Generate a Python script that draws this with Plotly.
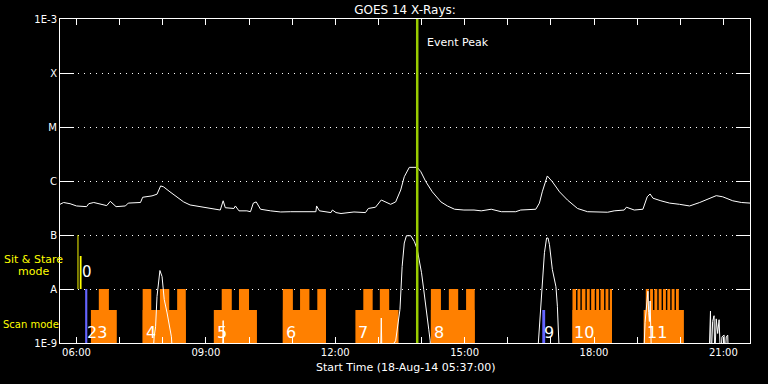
import plotly.graph_objects as go

DAY = "2014-08-18 "

# ---- GOES long channel (1-8 A) ----
long_time = ["05:37","05:42","05:51","06:00","06:14","06:17","06:24","06:33","06:42","06:47","06:55","07:08","07:12","07:29","07:32","07:45","07:52","07:57","08:01","08:10","08:20","08:29","08:38","08:52","09:06","09:20","09:24","09:27","09:39","09:41","09:46","09:57","10:02","10:06","10:10","10:16","10:30","10:44","10:58","11:17","11:33","11:34","11:38","11:54","11:56","12:01","12:08","12:26","12:42","12:46","12:56","13:04","13:10","13:17","13:24","13:31","13:36","13:43","13:54","13:59","14:06","14:15","14:27","14:36","14:46","14:59","15:13","15:23","15:37","15:51","16:11","16:18","16:39","16:44","16:48","16:55","17:02","17:12","17:23","17:37","17:51","18:05","18:19","18:28","18:42","18:45","18:56","19:08","19:14","19:18","19:22","19:33","19:45","19:59","20:13","20:27","20:41","20:50","20:59","21:13","21:25","21:37"]
long_flux = [3.7e-7,4.0e-7,3.8e-7,3.45e-7,3.35e-7,3.8e-7,4.0e-7,3.7e-7,3.5e-7,4.2e-7,3.35e-7,3.45e-7,3.9e-7,4.0e-7,5.0e-7,5.3e-7,5.7e-7,8.1e-7,7.8e-7,6.3e-7,5.1e-7,4.1e-7,3.6e-7,3.35e-7,3.2e-7,2.9e-7,4.3e-7,3.2e-7,3.1e-7,3.45e-7,2.8e-7,2.8e-7,2.7e-7,3.9e-7,4.1e-7,3.0e-7,2.8e-7,2.67e-7,2.7e-7,2.67e-7,2.7e-7,3.45e-7,2.8e-7,2.6e-7,2.9e-7,2.6e-7,2.5e-7,2.67e-7,2.6e-7,3.1e-7,3.27e-7,4.45e-7,4.1e-7,3.7e-7,4.1e-7,6.8e-7,1.2e-6,1.79e-6,1.79e-6,1.49e-6,9.7e-7,6.3e-7,4.1e-7,3.45e-7,3.0e-7,2.9e-7,2.9e-7,2.8e-7,3.0e-7,2.7e-7,2.7e-7,2.9e-7,3.0e-7,3.9e-7,6.3e-7,1.24e-6,9.7e-7,6.3e-7,4.45e-7,3.1e-7,2.7e-7,2.7e-7,2.64e-7,2.8e-7,2.9e-7,3.27e-7,2.9e-7,3.0e-7,5.1e-7,5.75e-7,4.8e-7,4.3e-7,3.9e-7,3.7e-7,3.45e-7,4.0e-7,4.8e-7,5.35e-7,5.1e-7,4.3e-7,4.0e-7,3.9e-7]

# ---- GOES short channel (0.5-4 A) ----
short_time = ["05:37","07:46","07:48","07:50","07:52","07:55","07:56","07:59","08:02","08:06","08:10","08:12","08:14","09:23","09:24","09:25","13:03","13:04","13:05","13:24","13:30","13:33","13:36","13:39","13:45","13:50","13:54","13:58","14:00","14:03","14:07","14:10","14:12","14:13","16:41","16:43","16:46","16:48","16:51","16:54","16:56","16:58","17:00","17:02","17:07","17:09","17:12","19:09","19:11","19:13","19:15","19:16","19:17","19:18","19:19","19:20","20:40","20:42","20:43","20:45","20:47","20:48","20:50","20:52","20:54","20:56","20:58","21:01","21:02","21:04","21:06","21:07","21:37"]
short_flux = [5e-10,5e-10,1.3e-9,2.0e-9,7.3e-9,2.0e-8,2.2e-8,1.7e-8,6.4e-9,3.6e-9,2.0e-9,1.3e-9,5e-10,5e-10,2.6e-9,5e-10,5e-10,2.9e-9,5e-10,1.1e-9,4.2e-9,2.6e-8,7.1e-8,9.7e-8,9.7e-8,7.6e-8,5.4e-8,3.0e-8,2.0e-8,9.8e-9,4.2e-9,1.8e-9,1.1e-9,5e-10,5e-10,1.3e-9,4.2e-9,1.5e-8,4.7e-8,8.8e-8,8.8e-8,6.6e-8,4.0e-8,2.3e-8,1.1e-8,4.8e-9,5e-10,5e-10,2.4e-9,4.8e-9,9.1e-9,3.7e-9,2.5e-9,6e-9,1.5e-9,5e-10,5e-10,3.9e-9,5e-10,2.5e-9,3.2e-9,5e-10,2.8e-9,1.5e-9,2.7e-9,5e-10,1.3e-9,1.4e-9,5e-10,1.3e-9,1.4e-9,5e-10,5e-10]

# ---- Scan mode blocks ----
scan_start = ["06:20","07:32","09:11","10:47","12:28","14:13","17:30","19:09"]
scan_end   = ["06:56","08:32","10:11","11:47","13:28","15:14","18:25","20:05"]
scan_low = 4.1e-9
tower_start = ["06:31","07:32","07:56","08:20","09:22","09:46","10:47","11:11","11:35","12:39","13:02","14:13","14:38","15:02",
               "17:30","17:37","17:43","17:50","17:56","18:03","18:09","18:16","18:22",
               "19:12","19:18","19:24","19:30","19:36","19:42","19:48","19:54"]
tower_end   = ["06:45","07:44","08:09","08:32","09:36","10:00","11:01","11:24","11:47","12:52","13:15","14:27","14:51","15:14",
               "17:35","17:41","17:48","17:54","18:01","18:07","18:14","18:20","18:25",
               "19:16","19:22","19:28","19:34","19:40","19:46","19:52","19:58"]
tower_high = 1e-8

# ---- other mode markers ----
blue_start = ["06:12","16:48"]
blue_end   = ["06:15","16:52"]
blue_top   = [1e-8, 4.1e-9]
yellow_start = ["06:01:20","06:04:30"]
yellow_end   = ["06:02:40","06:07:00"]
yellow_top   = [1e-7, 4.1e-8]

scan_labels = ["23","4","5","6","7","8","9","10","11"]
label_time  = ["06:12","07:34","09:13","10:49","12:29","14:14","16:47","17:30","19:11"]
stare_labels = ["0"]
stare_label_time = ["06:05"]

event_peak = "13:54"

y_ticks = [1e-9,1e-8,1e-7,1e-6,1e-5,1e-4,1e-3]
y_text  = ["1E-9","A","B","C","M","X","1E-3"]


def t(s):
    return DAY + s


def rects(starts, ends, tops, base):
    xs, ys = [], []
    for s, e, top in zip(starts, ends, tops):
        xs += [t(s), t(s), t(e), t(e), t(s), None]
        ys += [base, top, top, base, base, None]
    return xs, ys


fig = go.Figure()

def add_rects(starts, ends, tops, base, color):
    xs, ys = rects(starts, ends, tops, base)
    fig.add_trace(go.Scatter(x=xs, y=ys, mode="lines", fill="toself",
                             fillcolor=color, line=dict(width=0, color=color),
                             hoverinfo="skip", showlegend=False))

add_rects(scan_start, scan_end, [scan_low]*len(scan_start), 1e-9, "#FF8000")
add_rects(tower_start, tower_end, [tower_high]*len(tower_start), 1e-9, "#FF8000")
add_rects(blue_start, blue_end, blue_top, 1e-9, "#6464FF")
add_rects(yellow_start, yellow_end, yellow_top, 1e-8, "#FFFF00")

fig.add_trace(go.Scatter(x=[t(s) for s in long_time], y=long_flux, mode="lines",
                         line=dict(color="white", width=1), showlegend=False))
fig.add_trace(go.Scatter(x=[t(s) for s in short_time], y=short_flux, mode="lines",
                         line=dict(color="white", width=1), showlegend=False))
fig.add_trace(go.Scatter(x=[t(event_peak), t(event_peak)], y=[1e-9, 1e-3], mode="lines",
                         line=dict(color="#99CC00", width=2.5), showlegend=False))

ann = []
for lab, tm in zip(scan_labels, label_time):
    ann.append(dict(x=t(tm), y=-8.81, xref="x", yref="y", text=lab, showarrow=False,
                    xanchor="left", yanchor="middle",
                    font=dict(family="DejaVu Sans", size=16, color="white")))
for lab, tm in zip(stare_labels, stare_label_time):
    ann.append(dict(x=t(tm), y=-7.69, xref="x", yref="y", text=lab, showarrow=False,
                    xanchor="left", yanchor="middle",
                    font=dict(family="DejaVu Sans", size=15, color="white")))

ann.append(dict(x=t(event_peak), y=0.926, xref="x", yref="paper", text="Event Peak",
                showarrow=False, xanchor="left", yanchor="middle", xshift=8,
                font=dict(family="DejaVu Sans", size=11, color="white")))
ann.append(dict(x=-0.0377, y=0.259, xref="paper", yref="paper", text="Sit & Stare",
                showarrow=False, xanchor="center", yanchor="middle",
                font=dict(family="DejaVu Sans", size=11, color="#FFFF00")))
ann.append(dict(x=-0.0377, y=0.222, xref="paper", yref="paper", text="mode",
                showarrow=False, xanchor="center", yanchor="middle",
                font=dict(family="DejaVu Sans", size=11, color="#FFFF00")))
ann.append(dict(x=-0.0845, y=0.0586, xref="paper", yref="paper", text="Scan mode",
                showarrow=False, xanchor="left", yanchor="middle", borderpad=0,
                font=dict(family="DejaVu Sans", size=10, color="#FFFF00")))
ann.append(dict(x=0.5, y=-0.077, xref="paper", yref="paper",
                text="Start Time (18-Aug-14 05:37:00)",
                showarrow=False, xanchor="center", yanchor="middle",
                font=dict(family="DejaVu Sans", size=11, color="white")))

fig.update_layout(
    width=768, height=384,
    margin=dict(l=60, r=18, t=19, b=41),
    paper_bgcolor="black", plot_bgcolor="black",
    showlegend=False,
    title=dict(text="GOES 14 X-Rays:", x=0.5, xref="paper", xanchor="center",
               y=1 - 9.7 / 384, yref="container", yanchor="middle",
               font=dict(family="DejaVu Sans", size=12, color="white")),
    annotations=ann,
    font=dict(family="DejaVu Sans", size=10, color="white"),
)

fig.update_xaxes(
    type="date", range=[t("05:37"), t("21:37")],
    tick0=t("06:00"), dtick=3 * 3600 * 1000, tickformat="%H:%M",
    ticks="inside", ticklen=6, tickcolor="white", tickwidth=1,
    minor=dict(dtick=3600 * 1000, ticks="inside", ticklen=6, tickcolor="white", tickwidth=1,
               showgrid=False),
    showline=True, linecolor="white", linewidth=1, mirror="ticks",
    showgrid=False, zeroline=False,
    tickfont=dict(family="DejaVu Sans", size=10, color="white"),
)
fig.update_yaxes(
    type="log", range=[-9, -3],
    tickvals=y_ticks, ticktext=y_text,
    ticks="inside", ticklen=14, tickcolor="white", tickwidth=1,
    showline=True, linecolor="white", linewidth=1, mirror="ticks",
    showgrid=True, gridcolor="white", gridwidth=1, griddash="1px,5px",
    zeroline=False,
    tickfont=dict(family="DejaVu Sans", size=10, color="white"),
)

fig.write_html("out.html")
